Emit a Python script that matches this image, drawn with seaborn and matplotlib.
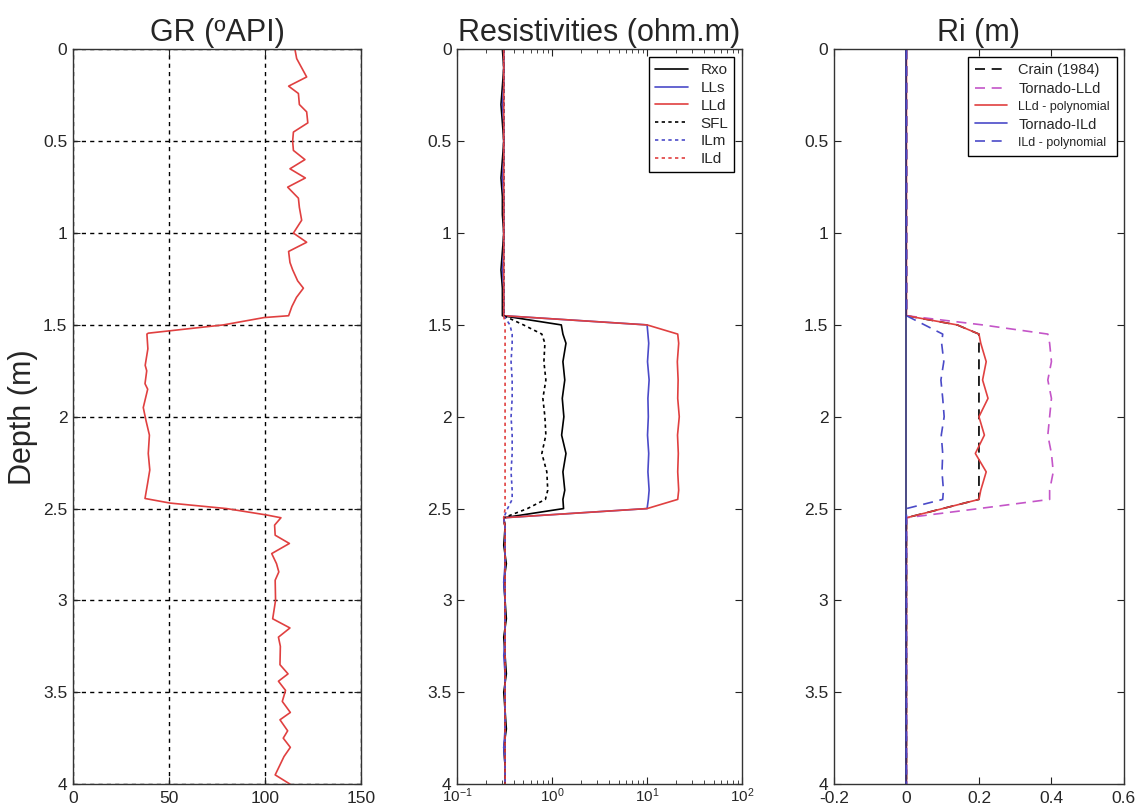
import numpy as np
import pandas as pd
import matplotlib
matplotlib.use('Agg')
import matplotlib.pyplot as plt
from matplotlib.ticker import FuncFormatter, LogLocator
import seaborn as sns

# GR log (depth in m, GR in API)
gr_depth = [0.0, 0.05, 0.15, 0.2, 0.24, 0.3, 0.34, 0.4, 0.45, 0.5, 0.55, 0.6, 0.65, 0.7,
            0.75, 0.81, 0.86, 0.93, 1.0, 1.05, 1.1, 1.16, 1.2, 1.26, 1.3, 1.35, 1.4, 1.45,
            1.46, 1.5, 1.545, 1.55, 1.63, 1.72, 1.75, 1.82, 1.85, 1.95, 2.02, 2.1, 2.2, 2.29,
            2.36, 2.445, 2.47, 2.5, 2.535, 2.55, 2.59, 2.645, 2.69, 2.745, 2.8, 2.845, 2.89,
            3.0, 3.1, 3.15, 3.2, 3.25, 3.35, 3.4, 3.44, 3.49, 3.55, 3.61, 3.65, 3.71, 3.75,
            3.8, 3.85, 3.95, 4.0]
gr_api = [115.6, 116.5, 121.7, 112.3, 117.4, 117.9, 121.7, 122.3, 114.8, 114.4, 114.8, 120.8,
          113.0, 121.0, 111.8, 117.4, 117.9, 119.1, 114.8, 121.7, 112.3, 113.0, 114.4, 117.0,
          120.0, 116.4, 114.0, 112.3, 99.5, 78.3, 39.2, 38.5, 39.0, 37.6, 38.4, 37.5, 38.9,
          36.6, 38.0, 39.8, 39.2, 40.0, 38.9, 37.5, 50.5, 80.0, 100.9, 108.3, 105.0, 105.3,
          112.7, 103.5, 106.0, 107.2, 105.3, 105.5, 104.0, 113.0, 107.0, 108.0, 107.8, 112.0,
          107.0, 110.7, 109.0, 113.2, 107.8, 111.8, 109.5, 113.2, 109.9, 105.3, 113.0]

# resistivity logs (ohm.m), common depth grid
res_depth = [0.0, 0.1, 0.2, 0.3, 0.4, 0.5, 0.6, 0.7, 0.8, 0.9, 1.0, 1.1, 1.2, 1.3, 1.4,
             1.45, 1.5, 1.55, 1.6, 1.7, 1.8, 1.9, 2.0, 2.1, 2.2, 2.3, 2.4, 2.45, 2.5, 2.55,
             2.6, 2.7, 2.8, 2.9, 3.0, 3.1, 3.2, 3.3, 3.4, 3.5, 3.6, 3.7, 3.8, 3.9, 4.0]
rxo = [0.30, 0.31, 0.30, 0.29, 0.30, 0.31, 0.30, 0.29, 0.30, 0.30, 0.31, 0.30, 0.29, 0.30, 0.30,
       0.30, 1.25, 1.30, 1.40, 1.30, 1.36, 1.28, 1.33, 1.26, 1.40, 1.30, 1.36, 1.30, 1.32, 0.31,
       0.32, 0.31, 0.33, 0.31, 0.32, 0.33, 0.31, 0.32, 0.33, 0.31, 0.32, 0.33, 0.31, 0.32, 0.32]
lls = [0.31, 0.31, 0.31, 0.30, 0.31, 0.31, 0.31, 0.30, 0.31, 0.31, 0.31, 0.31, 0.30, 0.31, 0.31,
       0.31, 10.0, 10.2, 10.4, 10.1, 10.5, 10.2, 10.3, 10.1, 10.4, 10.2, 10.5, 10.3, 10.0, 0.31,
       0.32, 0.32, 0.32, 0.31, 0.32, 0.32, 0.32, 0.31, 0.32, 0.32, 0.32, 0.32, 0.31, 0.32, 0.32]
lld = [0.31, 0.31, 0.31, 0.31, 0.31, 0.31, 0.31, 0.31, 0.31, 0.31, 0.31, 0.31, 0.31, 0.31, 0.31,
       0.31, 10.0, 21.0, 21.5, 20.8, 21.2, 21.0, 21.8, 20.9, 21.3, 21.0, 21.5, 21.0, 10.0, 0.31,
       0.32, 0.32, 0.32, 0.32, 0.32, 0.32, 0.32, 0.32, 0.32, 0.32, 0.32, 0.32, 0.32, 0.32, 0.32]
sfl = [0.31, 0.31, 0.31, 0.31, 0.31, 0.31, 0.31, 0.31, 0.31, 0.31, 0.31, 0.31, 0.31, 0.31, 0.31,
       0.31, 0.50, 0.78, 0.84, 0.82, 0.86, 0.80, 0.84, 0.86, 0.78, 0.88, 0.90, 0.85, 0.55, 0.31,
       0.32, 0.32, 0.32, 0.32, 0.32, 0.32, 0.32, 0.32, 0.32, 0.32, 0.32, 0.32, 0.32, 0.32, 0.32]
ilm = [0.31, 0.31, 0.31, 0.31, 0.31, 0.31, 0.31, 0.31, 0.31, 0.31, 0.31, 0.31, 0.31, 0.31, 0.31,
       0.31, 0.36, 0.38, 0.38, 0.37, 0.38, 0.38, 0.37, 0.38, 0.38, 0.37, 0.38, 0.38, 0.34, 0.31,
       0.32, 0.32, 0.32, 0.32, 0.32, 0.32, 0.32, 0.32, 0.32, 0.32, 0.32, 0.32, 0.32, 0.32, 0.32]
ild = [0.31, 0.31, 0.31, 0.31, 0.31, 0.31, 0.31, 0.31, 0.31, 0.31, 0.31, 0.31, 0.31, 0.31, 0.31,
       0.31, 0.32, 0.32, 0.32, 0.32, 0.32, 0.32, 0.32, 0.32, 0.32, 0.32, 0.32, 0.32, 0.32, 0.31,
       0.32, 0.32, 0.32, 0.32, 0.32, 0.32, 0.32, 0.32, 0.32, 0.32, 0.32, 0.32, 0.32, 0.32, 0.32]

# invasion radius Ri (m)
ri_depth = [0.0, 1.45, 1.5, 1.55, 1.6, 1.7, 1.8, 1.9, 2.0, 2.1, 2.2, 2.3, 2.4, 2.45, 2.5, 2.55, 4.0]
ri_crain = [0, 0, 0.14, 0.2, 0.2, 0.2, 0.2, 0.2, 0.2, 0.2, 0.2, 0.2, 0.2, 0.2, 0.10, 0, 0]
ri_tornado_lld = [0, 0, 0.21, 0.39, 0.395, 0.40, 0.39, 0.40, 0.395, 0.39, 0.40, 0.405, 0.395,
                  0.395, 0.2, 0, 0]
ri_lld_poly = [0, 0, 0.14, 0.2, 0.205, 0.22, 0.21, 0.225, 0.2, 0.215, 0.19, 0.22, 0.205, 0.2,
               0.10, 0, 0]
ri_tornado_ild_depth = [0.0, 4.0]
ri_tornado_ild = [0, 0]
ri_ild_poly = [0, 0, 0.05, 0.10, 0.097, 0.103, 0.095, 0.10, 0.104, 0.096, 0.10, 0.098, 0.102,
               0.10, 0, 0, 0]

RED = '#e04040'
BLUE = '#4a4ac8'
MAGENTA = '#c455c8'

sns.set_style('ticks')
plt.rcParams['font.family'] = ['Liberation Sans', 'DejaVu Sans']
plt.rcParams['axes.linewidth'] = 1.0
plt.rcParams['axes.edgecolor'] = '#333333'

fig = plt.figure(figsize=(11.37, 8.10), dpi=100)
ax1 = fig.add_axes([0.0642, 0.032, 0.2533, 0.907])
ax2 = fig.add_axes([0.402, 0.032, 0.2507, 0.907])
ax3 = fig.add_axes([0.7335, 0.032, 0.255, 0.907])

def line(ax, x, y, color, ls='-', label=None, lw=1.2):
    sns.lineplot(x=x, y=y, sort=False, estimator=None, ax=ax, color=color,
                 linestyle=ls, lw=lw, label=label, legend=False)

# GR
line(ax1, gr_api, gr_depth, RED)
ax1.set_xlim(0, 150)
ax1.set_xticks([0, 50, 100, 150])
ax1.grid(True, color='black', linestyle=(0, (3, 3)), lw=1.0)
ax1.set_title('GR (ºAPI)', fontsize=22, pad=6)
ax1.set_ylabel('Depth (m)', fontsize=22, labelpad=4)

# resistivities
line(ax2, rxo, res_depth, 'black', '-', 'Rxo')
line(ax2, lls, res_depth, BLUE, '-', 'LLs')
line(ax2, lld, res_depth, RED, '-', 'LLd')
line(ax2, sfl, res_depth, 'black', (0, (2, 2)), 'SFL')
line(ax2, ilm, res_depth, BLUE, (0, (2, 2)), 'ILm')
line(ax2, ild, res_depth, RED, (0, (2, 2)), 'ILd')
ax2.set_xscale('log')
ax2.set_xlim(0.1, 100)
ax2.xaxis.set_minor_locator(LogLocator(base=10, subs=np.arange(2, 10)))
ax2.set_title('Resistivities (ohm.m)', fontsize=22, pad=6)
leg2 = ax2.legend(loc='upper right', fontsize=11, frameon=True, fancybox=False,
                  edgecolor='black', framealpha=1, handlelength=2.2, borderpad=0.4,
                  labelspacing=0.25, borderaxespad=0.5)
leg2.get_frame().set_linewidth(1.0)

# Ri
dash = (0, (6, 4))
line(ax3, ri_crain, ri_depth, 'black', dash, 'Crain (1984)')
line(ax3, ri_tornado_lld, ri_depth, MAGENTA, dash, 'Tornado-LLd')
line(ax3, ri_lld_poly, ri_depth, RED, '-', 'LLd - polynomial')
line(ax3, ri_tornado_ild, ri_tornado_ild_depth, '#2a2a70', '-', 'Tornado-ILd')
line(ax3, ri_ild_poly, ri_depth, BLUE, dash, 'ILd - polynomial')
ax3.set_xlim(-0.2, 0.6)
ax3.set_xticks([-0.2, 0, 0.2, 0.4, 0.6])
ax3.set_title('Ri (m)', fontsize=22, pad=6)
leg3 = ax3.legend(loc='upper right', fontsize=10.5, frameon=True, fancybox=False,
                  edgecolor='black', framealpha=1, handlelength=2.2, borderpad=0.45,
                  labelspacing=0.3, borderaxespad=0.5)
leg3.get_frame().set_linewidth(1.0)
for i in (2, 4):
    leg3.get_texts()[i].set_fontsize(9)
# Tornado-ILd in legend shown as blue
leg3.get_lines()[3].set_color(BLUE)

fmt = FuncFormatter(lambda v, p: '%g' % v)
for ax in (ax1, ax2, ax3):
    ax.set_ylim(4, 0)
    ax.set_yticks(np.arange(0, 4.01, 0.5))
    ax.yaxis.set_major_formatter(fmt)
    if ax is not ax2:
        ax.xaxis.set_major_formatter(fmt)
    ax.tick_params(which='major', direction='in', top=True, right=True, length=5,
                   labelsize=12.5, color='#222222', pad=4)
    ax.tick_params(axis='x', which='major', pad=5)
    ax.tick_params(which='minor', direction='in', top=True, right=True, length=3)
    for s in ax.spines.values():
        s.set_visible(True)
    ax.set_xlabel('')
    if ax is not ax1:
        ax.set_ylabel('')
ax2.tick_params(axis='x', which='major', labelsize=11, pad=2)

fig.savefig('out.png', dpi=100)
